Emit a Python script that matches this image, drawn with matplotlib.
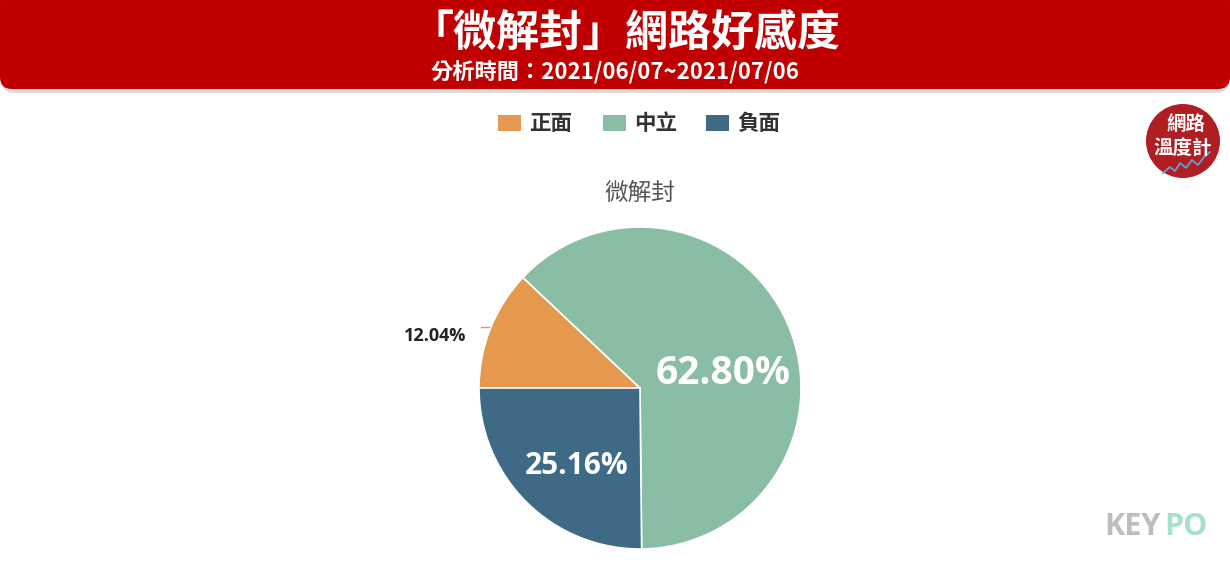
import matplotlib
matplotlib.use("Agg")
import matplotlib.pyplot as plt
from matplotlib.patches import FancyBboxPatch, Circle, Rectangle

categories = ["正面", "中立", "負面"]
values = [12.04, 62.80, 25.16]
colors = ["#E4994E", "#8ABEA4", "#3E6A86"]
title = "「微解封」網路好感度"
subtitle = "分析時間：2021/06/07~2021/07/06"
pie_title = "微解封"

plt.rcParams['font.family'] = ['Noto Sans CJK TC', 'DejaVu Sans']

W, H = 1230, 567
fig = plt.figure(figsize=(W/100, H/100), dpi=100)
ax = fig.add_axes([0, 0, 1, 1])

def Y(y):
    return H - y

# header
shadow = FancyBboxPatch((2, Y(93)), 1226, 95, boxstyle="round,pad=0,rounding_size=12",
                        fc="#bbbbbb", ec="none", alpha=0.5, zorder=1)
ax.add_patch(shadow)
hdr = FancyBboxPatch((0, Y(89)), 1230, 100, boxstyle="round,pad=0,rounding_size=12",
                     fc="#C00000", ec="none", zorder=2)
ax.add_patch(hdr)
ax.text(625, Y(33), title, color="white", fontsize=31, fontweight="bold",
        ha="center", va="center", zorder=3)
ax.text(615, Y(73), subtitle, color="white", fontsize=16, fontweight="bold",
        ha="center", va="center", zorder=3)

# pie
cx, cy, r = 640, Y(388), 161
wedges, _ = ax.pie(values, colors=colors, startangle=180, counterclock=False,
                   center=(cx, cy), radius=r, frame=True,
                   wedgeprops=dict(edgecolor="white", linewidth=1.2))

# labels
ax.text(723, Y(374), f"{values[1]:.2f}%", color="white", fontsize=28, fontweight="bold",
        ha="center", va="center", family=["Open Sans", "DejaVu Sans"])
ax.text(577, Y(466), f"{values[2]:.2f}%", color="white", fontsize=21.5, fontweight="bold",
        ha="center", va="center", family=["Open Sans", "DejaVu Sans"])
ax.text(435, Y(336), f"{values[0]:.2f}%", color="#222222", fontsize=13, fontweight="bold",
        ha="center", va="center", family=["Open Sans", "DejaVu Sans"])
ax.plot([481, 489], [Y(327), Y(327)], color=colors[0], lw=1)

# pie title
ax.text(640, Y(193), pie_title, color="#555555", fontsize=17, ha="center", va="center")

# legend
leg_x = [498, 603, 706]
for x, c, lab in zip(leg_x, colors, categories):
    ax.add_patch(Rectangle((x, Y(131)), 23, 16, fc=c, ec="none"))
    ax.text(x + 31, Y(123), lab, color="#333333", fontsize=15.5, fontweight="bold",
            ha="left", va="center")

# logo top right
ax.add_patch(Circle((1183, Y(141)), 37, fc="#B01E24", ec="none"))
ax.text(1186, Y(124), "網路", color="white", fontsize=14, fontweight="bold",
        ha="center", va="center")
ax.text(1183, Y(148), "溫度計", color="white", fontsize=14, fontweight="bold",
        ha="center", va="center")
ax.plot([1163, 1170, 1175, 1180, 1186, 1192, 1198, 1204, 1210],
        [Y(173), Y(167), Y(171), Y(163), Y(168), Y(160), Y(165), Y(157), Y(152)],
        color="#5BA3D6", lw=1.3)

# KEYPO
ax.text(1161, Y(527), "KEY", color="#BDBDBD", fontsize=22, fontweight="bold",
        ha="right", va="center", family=["Open Sans", "DejaVu Sans"])
ax.text(1164, Y(527), "PO", color="#A7E0CF", fontsize=22, fontweight="bold",
        ha="left", va="center", family=["Open Sans", "DejaVu Sans"])

ax.set_xlim(0, W)
ax.set_ylim(0, H)
ax.set_aspect("auto")
ax.axis("off")
fig.savefig("out.png", dpi=100)
